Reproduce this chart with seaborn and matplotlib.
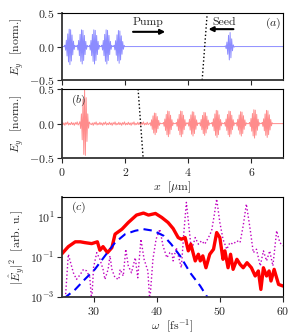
import numpy as np
import matplotlib
matplotlib.use("Agg")
import matplotlib.pyplot as plt
import seaborn as sns

# ---- panel (a): pump train + seed (E_y, normalised) ----
pump_centers_a = [0.25, 0.64, 1.03, 1.42, 1.81]
pump_amps_a = [0.27, 0.26, 0.26, 0.26, 0.25]
seed_centers = [5.31]
seed_amps = [0.21]

# ---- panel (b): amplified seed + depleted pump ----
probe_centers = [0.71]
probe_amps = [0.47]
pump_centers_b = [2.95, 3.37, 3.78, 4.15, 4.52, 4.91, 5.31, 5.68, 6.10, 6.50]
pump_amps_b = [0.16, 0.19, 0.19, 0.18, 0.17, 0.20, 0.19, 0.18, 0.21, 0.20]

# one wave packet, sampled every half cycle (offset in um, normalised field)
pump_dx = [-0.18, -0.1575, -0.135, -0.1125, -0.09, -0.0675, -0.045, -0.0225, 0.0,
           0.0225, 0.045, 0.0675, 0.09, 0.1125, 0.135, 0.1575, 0.18]
pump_shape = [0.0, 0.08, -0.2, 0.35, -0.52, 0.7, -0.85, 0.96, -1.0,
              0.93, -0.8, 0.64, -0.46, 0.3, -0.16, 0.06, 0.0]
seed_dx = [-0.16, -0.135, -0.11, -0.085, -0.06, -0.035, -0.01, 0.015, 0.04,
           0.065, 0.09, 0.115, 0.14, 0.165]
seed_shape = [0.0, 0.05, -0.15, 0.32, -0.55, 0.8, -0.95, 1.0, -0.8,
              0.55, -0.3, 0.12, -0.04, 0.0]
probe_dx = [-0.17, -0.145, -0.12, -0.095, -0.07, -0.045, -0.02, 0.005, 0.03,
            0.055, 0.08, 0.105, 0.13, 0.155, 0.18]
probe_shape = [0.0, 0.06, -0.15, 0.3, -0.5, 0.75, -0.95, 1.06, -0.98,
               0.8, -0.55, 0.3, -0.14, 0.05, 0.0]
# small numerical noise on the background of panel (b)
ripple = [0.02, -0.015, 0.01, -0.025, 0.015, -0.01, 0.025, -0.02, 0.005, -0.015]

# front of the plasma (dotted)
front_a_x = [4.44, 4.60]
front_a_y = [-0.5, 0.5]
front_b_x = [2.41, 2.57]
front_b_y = [0.5, -0.5]

# ---- panel (c): spectra, log10 of |E_y|^2 ----
red_w = [25.0, 26.0, 27.1, 27.9, 28.6, 29.7, 30.6, 31.0, 31.5, 32.2,
         32.9, 33.4, 34.5, 35.5, 36.8, 37.9, 38.7, 39.8, 40.8, 41.8,
         42.6, 43.4, 43.9, 44.5, 45.0, 45.4, 46.1, 46.6, 46.9, 47.3,
         47.8, 48.4, 49.0, 49.5, 50.0, 50.5, 50.8, 51.3, 51.7, 52.1,
         52.7, 53.2, 53.7, 54.3, 55.0, 55.6, 56.1, 56.5, 56.9, 57.4,
         57.8, 58.1, 58.6, 59.3, 60.0]
red_log = [-0.82, -0.47, -0.23, -0.23, -0.27, -0.32, -0.23, -0.65, -0.47, -0.77,
           -0.52, 0.15, 0.4, 0.73, 1.1, 1.2, 1.1, 1.18, 0.98, 0.73,
           0.43, -0.02, -0.1, -0.02, -0.68, -0.35, -1.18, -0.85, -1.18, -0.93,
           -1.52, -0.85, -0.6, 0.23, -0.02, -1.1, -0.68, -1.52, -0.85, -1.6,
           -1.1, -1.35, -1.52, -1.27, -1.52, -1.93, -1.68, -2.6, -1.52, -1.93,
           -1.68, -2.18, -1.6, -2.35, -2.43]
blue_w = [25.3, 27.1, 28.6, 30.2, 31.8, 33.4, 35.0, 36.6, 37.9, 39.5,
          41.1, 42.3, 43.7, 45.3, 46.9, 47.9, 48.3]
blue_log = [-3.05, -2.6, -2.1, -1.6, -0.93, -0.27, 0.15, 0.32, 0.4, 0.32,
            0.07, -0.35, -0.93, -1.77, -2.43, -2.93, -3.1]
mag_w = [25.5, 26.0, 26.8, 27.3, 27.9, 28.4, 28.9, 29.4, 29.7, 30.0,
         30.5, 31.0, 31.5, 31.8, 32.3, 32.6, 32.9, 33.4, 34.0, 34.2,
         34.7, 35.1, 35.5, 36.0, 36.6, 37.0, 37.5, 38.0, 38.6, 38.9,
         39.4, 39.9, 40.5, 41.0, 41.6, 42.1, 42.4, 42.6, 43.1, 43.9,
         44.3, 44.7, 45.2, 45.5, 46.1, 46.6, 47.1, 47.6, 48.2, 48.7,
         49.1, 49.5, 50.0, 50.5, 51.1, 51.6, 52.1, 52.7, 53.2, 53.7,
         54.2, 54.8, 55.3, 55.8, 56.4, 56.9, 57.4, 57.9, 58.4, 59.0,
         59.5, 60.0]
mag_log = [-3.2, -0.85, -1.77, -2.1, -1.85, -1.6, -1.68, -2.0, -3.2, -1.5,
           -0.77, -1.1, -1.6, -2.1, -1.6, -0.93, -1.6, -2.02, -2.1, -1.6,
           -1.93, -0.6, -1.43, -1.77, -1.02, -2.02, -0.1, -1.1, -1.68, -3.2,
           -1.1, -0.1, 0.4, -0.43, -1.02, -0.77, -0.77, -1.18, -0.52, -1.52,
           0.23, 1.73, 0.23, -0.68, -0.02, -0.35, -0.18, -0.35, -0.02, 0.32,
           1.07, 1.9, 0.73, -0.1, -0.6, -0.27, -0.35, -0.18, -0.27, 0.57,
           1.65, 0.4, -0.77, -0.6, -1.43, -0.68, -1.18, -0.68, -1.43, 0.32,
           -0.27, -0.43]


def build_trace(packets, background=None, xmin=0.0, xmax=7.0):
    """Put wave packets on a common x axis, with an optional background ripple."""
    pts = [(xmin, 0.0), (xmax, 0.0)]
    spans = []
    for centers, amps, dx, shape in packets:
        for c, a in zip(centers, amps):
            pts += [(c + d, a * s) for d, s in zip(dx, shape)]
            spans.append((c + dx[0], c + dx[-1]))
    if background is not None:
        xb, yb = background
        for xv, yv in zip(xb, yb):
            if not any(lo - 0.02 < xv < hi + 0.02 for lo, hi in spans):
                pts.append((xv, yv))
    pts.sort()
    return np.array([p[0] for p in pts]), np.array([p[1] for p in pts])


sns.set_style("ticks")
plt.rcParams["font.family"] = ["cmr10", "DejaVu Serif"]
plt.rcParams["mathtext.fontset"] = "cm"
plt.rcParams["axes.formatter.use_mathtext"] = True
plt.rcParams["font.size"] = 8.5
plt.rcParams["axes.unicode_minus"] = True

fig = plt.figure(figsize=(2.96, 3.35), dpi=100)
ax_a = fig.add_axes([0.2095, 0.761, 0.7465, 0.200])
ax_b = fig.add_axes([0.2095, 0.528, 0.7465, 0.206])
ax_c = fig.add_axes([0.2095, 0.112, 0.7465, 0.300])

# panel (a)
xa, ya = build_trace([(pump_centers_a, pump_amps_a, pump_dx, pump_shape),
                      (seed_centers, seed_amps, seed_dx, seed_shape)])
sns.lineplot(x=xa, y=ya, ax=ax_a, color="blue", lw=0.7, alpha=0.45,
             estimator=None, sort=False)
sns.lineplot(x=front_a_x, y=front_a_y, ax=ax_a, color="black", lw=1.0,
             linestyle=":", estimator=None, sort=False)
ax_a.annotate("", xy=(3.27, 0.22), xytext=(2.25, 0.22),
              arrowprops=dict(arrowstyle="-|>", color="black", lw=1.5,
                              mutation_scale=7, shrinkA=0, shrinkB=0))
ax_a.annotate("", xy=(4.64, 0.26), xytext=(5.43, 0.26),
              arrowprops=dict(arrowstyle="-|>", color="black", lw=1.5,
                              mutation_scale=7, shrinkA=0, shrinkB=0))
ax_a.text(2.72, 0.36, "Pump", ha="center", va="center", fontsize=8.5)
ax_a.text(5.13, 0.37, "Seed", ha="center", va="center", fontsize=8.5)
ax_a.text(0.955, 0.84, r"$(a)$", transform=ax_a.transAxes, ha="center",
          va="center", fontsize=8.5)

# panel (b)
noise_x = np.arange(0.0, 2.86, 0.03)
noise_y = np.resize(ripple, noise_x.size)
xb, yb = build_trace([(probe_centers, probe_amps, probe_dx, probe_shape),
                      (pump_centers_b, pump_amps_b, pump_dx, pump_shape)],
                     background=(noise_x, noise_y))
sns.lineplot(x=xb, y=yb, ax=ax_b, color="red", lw=0.7, alpha=0.45,
             estimator=None, sort=False)
sns.lineplot(x=front_b_x, y=front_b_y, ax=ax_b, color="black", lw=1.0,
             linestyle=":", estimator=None, sort=False)
ax_b.text(0.04, 0.84, r"$(b)$", transform=ax_b.transAxes, ha="left",
          va="center", fontsize=8.5)

for ax in (ax_a, ax_b):
    ax.set_xlim(0, 7)
    ax.set_ylim(-0.5, 0.5)
    ax.set_xticks([0, 2, 4, 6])
    ax.set_yticks([-0.5, 0.0, 0.5])
    ax.set_ylabel(r"$E_y$  [norm.]", labelpad=2)
ax_a.set_xticklabels([])
ax_a.set_xlabel("")
ax_b.set_xlabel(r"$x$  [$\mu$m]", labelpad=1)

# panel (c)
sns.lineplot(x=mag_w, y=10 ** np.array(mag_log), ax=ax_c, color="m", lw=1.0,
             linestyle=":", estimator=None, sort=False)
sns.lineplot(x=red_w, y=10 ** np.array(red_log), ax=ax_c, color="red", lw=2.4,
             estimator=None, sort=False)
sns.lineplot(x=blue_w, y=10 ** np.array(blue_log), ax=ax_c, color="blue",
             lw=1.5, linestyle=(0, (4, 2.5)), estimator=None, sort=False)
ax_c.set_yscale("log")
ax_c.set_xlim(25, 60)
ax_c.set_ylim(1e-3, 1e2)
ax_c.set_xticks([30, 40, 50, 60])
ax_c.set_yticks([1e-3, 1e-1, 1e1])
ax_c.yaxis.set_minor_locator(matplotlib.ticker.NullLocator())
ax_c.set_xlabel(r"$\omega$  [fs$^{-1}$]", labelpad=0.5)
ax_c.set_ylabel(r"$|\hat{E}_y|^2$  [arb. u.]", labelpad=2)
ax_c.text(0.04, 0.9, r"$(c)$", transform=ax_c.transAxes, ha="left",
          va="center", fontsize=8.5)

for ax in (ax_a, ax_b, ax_c):
    ax.tick_params(direction="out", length=3.5, width=0.8, pad=2, labelsize=8.5)
    for side in ("top", "right"):
        ax.spines[side].set_linewidth(0.8)
        ax.spines[side].set_color("black")
    for side in ("left", "bottom"):
        ax.spines[side].set_linewidth(1.3)
        ax.spines[side].set_color("#333333")

fig.savefig("out.png", dpi=100)
